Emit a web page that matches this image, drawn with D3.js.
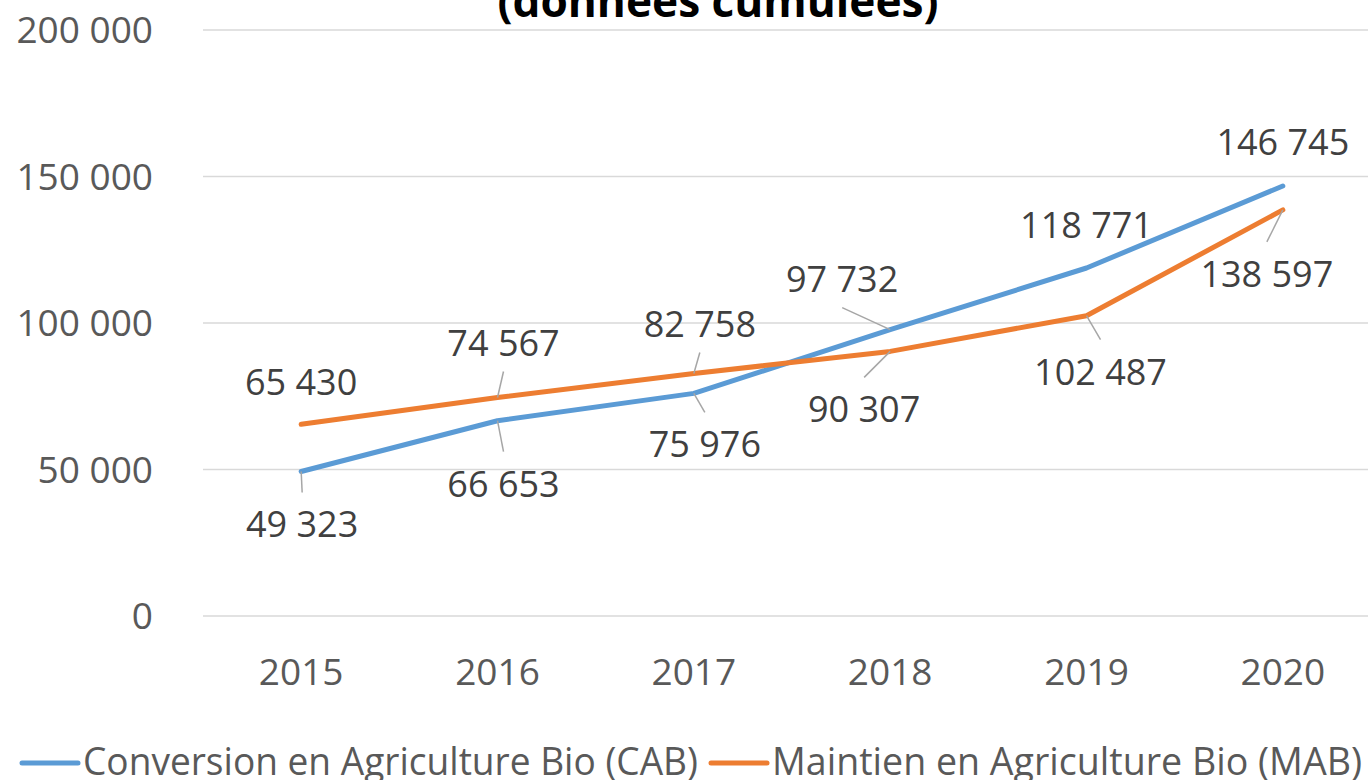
<!DOCTYPE html>
<meta charset="utf-8">
<style>
    body { margin: 0; background: #fff; }
    #chart { display: block; }
    text { font-family: "Open Sans", sans-serif; }
    .grid line { stroke: #d9d9d9; stroke-width: 1.5px; }
    .axis text { fill: #595959; font-size: 37px; }
    .lbl { fill: #404040; font-size: 36px; }
    .leader { stroke: #a6a6a6; stroke-width: 1.5px; }
</style>
<svg id="chart" width="1368" height="780"></svg>
<script src="https://d3js.org/d3.v7.min.js"></script>
<script>

    var years = ["2015", "2016", "2017", "2018", "2019", "2020"];
    var cab = [49323, 66653, 75976, 97732, 118771, 146745];
    var mab = [65430, 74567, 82758, 90307, 102487, 138597];
    var yTicks = [0, 50000, 100000, 150000, 200000];

    // label placement (moved by hand in the original), [dx, dy, leader]
    var cabLabelPos = [[1, 66, 1], [6, 76, 1], [11, 64, 1], [-48, -38, 1], [0, -30, 0], [0, -31, 0]];
    var mabLabelPos = [[0, -29, 0], [6, -42, 1], [6, -37, 1], [-26, 71, 1], [14, 69, 1], [-16, 77, 1]];

    var svg = d3.select("#chart"),
        width = +svg.attr("width"),
        height = +svg.attr("height");

    var x = d3.scaleBand().domain(years).range([203, 1381]);
    var y = d3.scaleLinear().domain([0, 200000]).range([616, 30]);
    var cx = function(d) { return x(d) + x.bandwidth() / 2; };

    var fmt = function(v) { return d3.format(",")(v).replace(/,/g, " "); };

    // gridlines
    svg.append("g").attr("class", "grid")
        .selectAll("line").data(yTicks).enter().append("line")
        .attr("x1", 203).attr("x2", width)
        .attr("y1", function(d) { return y(d); })
        .attr("y2", function(d) { return y(d); });

    // y axis labels
    svg.append("g").attr("class", "axis")
        .selectAll("text").data(yTicks).enter().append("text")
        .attr("x", 153)
        .attr("y", function(d) { return y(d) + 13; })
        .attr("text-anchor", "end")
        .text(fmt);

    // x axis labels
    svg.append("g").attr("class", "axis")
        .selectAll("text").data(years).enter().append("text")
        .attr("x", cx)
        .attr("y", 685)
        .attr("text-anchor", "middle")
        .text(function(d) { return d; });

    var series = [
        {name: "Conversion en Agriculture Bio (CAB)", values: cab, color: "#5b9bd5", pos: cabLabelPos},
        {name: "Maintien en Agriculture Bio (MAB)", values: mab, color: "#ed7d31", pos: mabLabelPos}
    ];

    var line = d3.line()
        .x(function(d, i) { return cx(years[i]); })
        .y(function(d) { return y(d); });

    series.forEach(function(s) {
        svg.append("path")
            .datum(s.values)
            .attr("d", line)
            .attr("fill", "none")
            .attr("stroke", s.color)
            .attr("stroke-width", 5)
            .attr("stroke-linejoin", "round")
            .attr("stroke-linecap", "round");
    });

    // data labels + leader lines
    series.forEach(function(s) {
        s.values.forEach(function(v, i) {
            var px = cx(years[i]), py = y(v);
            var p = s.pos[i];
            var lx = px + p[0], ly = py + p[1];
            if (p[2]) {
                var ey = p[1] < 0 ? ly + 16 : ly - 45;
                svg.append("line").attr("class", "leader")
                    .attr("x1", px).attr("y1", py)
                    .attr("x2", lx).attr("y2", ey);
            }
            svg.append("text").attr("class", "lbl")
                .attr("x", lx).attr("y", ly)
                .attr("text-anchor", "middle")
                .text(fmt(v));
        });
    });

    // title (only the bottom line is visible)
    svg.append("text")
        .attr("x", 718).attr("y", 17)
        .attr("text-anchor", "middle")
        .attr("font-weight", "bold")
        .attr("font-size", 44)
        .attr("fill", "#000")
        .attr("textLength", 441)
        .attr("lengthAdjust", "spacingAndGlyphs")
        .text("(données cumulées)");

    // legend
    var legX = [22, 711], legW = [615, 590];
    var leg = svg.append("g");
    series.forEach(function(s, i) {
        leg.append("line")
            .attr("x1", legX[i]).attr("x2", legX[i] + 56)
            .attr("y1", 763).attr("y2", 763)
            .attr("stroke", s.color).attr("stroke-width", 5)
            .attr("stroke-linecap", "round");
        leg.append("text")
            .attr("x", legX[i] + 61).attr("y", 775)
            .attr("font-size", 38)
            .attr("fill", "#595959")
            .attr("textLength", legW[i])
            .attr("lengthAdjust", "spacingAndGlyphs")
            .text(s.name);
    });

</script>
